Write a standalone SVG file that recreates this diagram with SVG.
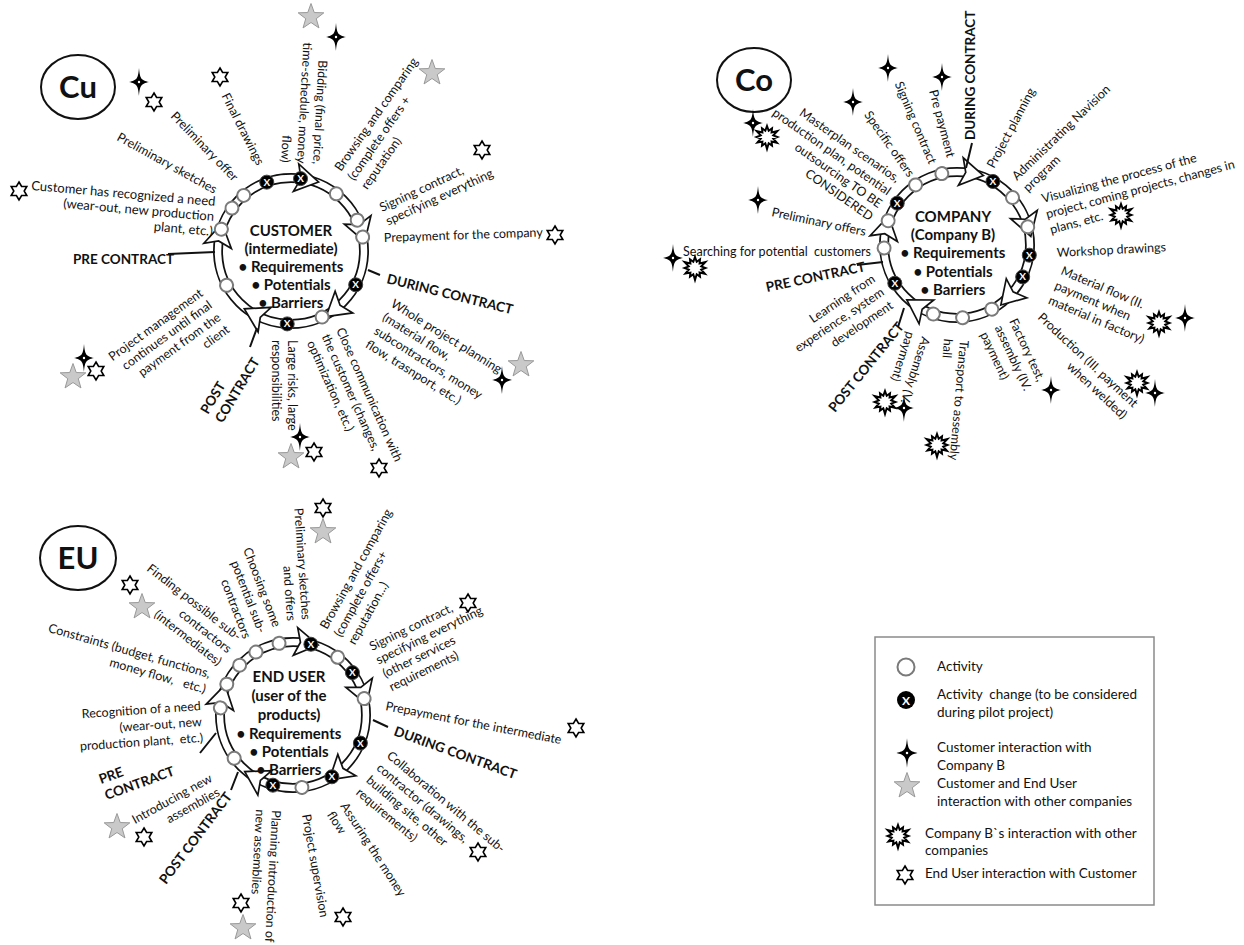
<svg xmlns="http://www.w3.org/2000/svg" width="1244" height="945" viewBox="0 0 1244 945">
<style>
text{font-family:Lato,"Liberation Sans",sans-serif;fill:#111}
.l{font-size:12.5px}
.e{text-anchor:end}
.b{font-size:13.5px;font-weight:bold}
.c{font-size:15px;font-weight:bold;text-anchor:middle}
.big{font-size:31px;font-weight:bold;text-anchor:middle}
.lg{font-size:13.5px}
.bo{fill:none;stroke:#111;stroke-width:10}
.bi{fill:none;stroke:#fff;stroke-width:6.5}
.tk{stroke:#111;stroke-width:2;fill:none}
.ph{fill:#fff;stroke:#111;stroke-width:2}
</style>
<defs>
<g id="sp"><path d="M0,-14 C1,-3 2,-2 10,0 C2,2 1,3 0,14 C-1,3 -2,2 -10,0 C-2,-2 -1,-3 0,-14Z" fill="#000"/><circle r="1.2" fill="#fff"/></g>
<polygon id="hx" points="0,-9 2.6,-4.5 7.79,-4.5 5.2,0 7.79,4.5 2.6,4.5 0,9 -2.6,4.5 -7.79,4.5 -5.2,0 -7.79,-4.5 -2.6,-4.5" fill="#fff" stroke="#000" stroke-width="1.6"/>
<polygon id="gs" points="0,-13.5 3.24,-4.46 12.84,-4.17 5.24,1.7 7.94,10.92 0,5.5 -7.94,10.92 -5.24,1.7 -12.84,-4.17 -3.24,-4.46" fill="#c9c9c9" stroke="#999" stroke-width="1"/>
<polygon id="ex" points="0,-11 1.68,-6.28 5,-8.66 4.6,-4.6 10.39,-6 6.28,-1.68 10.5,0 6.28,1.68 9.96,5.75 4.6,4.6 5,8.66 1.68,6.28 0,12 -1.68,6.28 -5,8.66 -4.6,4.6 -9.53,5.5 -6.28,1.68 -10.5,0 -6.28,-1.68 -10.39,-6 -4.6,-4.6 -5,-8.66 -1.68,-6.28" fill="#fff" stroke="#000" stroke-width="2"/>
<circle id="ac" r="6.5" fill="#fff" stroke="#7a7a7a" stroke-width="2"/>
<g id="xc"><circle r="7" fill="#000" stroke="#444" stroke-width="1"/><text x="0" y="3.5" style="font-size:10px;font-weight:bold;fill:#fff;text-anchor:middle">X</text></g>
<polygon id="ah" points="14,0 -9,-14 -4,0 -9,14" fill="#fff" stroke="#111" stroke-width="1.7"/>
</defs>
<rect width="1244" height="945" fill="#fff"/>

<!-- connectors: rings, arrowheads, phase ticks -->
<g id="connectors">
 <g transform="translate(291,251)">
  <circle r="73" class="bo"/><circle r="73" class="bi"/>
  <use href="#ah" transform="rotate(-79) translate(73,0) rotate(90)"/>
  <use href="#ah" transform="rotate(-18) translate(73,0) rotate(90)"/>
  <use href="#ah" transform="rotate(51) translate(73,0) rotate(90)"/>
  <use href="#ah" transform="rotate(118) translate(73,0) rotate(90)"/>
  <use href="#ah" transform="rotate(191) translate(73,0) rotate(90)"/>
 </g>
 <g transform="translate(957,245)">
  <circle r="73" class="bo"/><circle r="73" class="bi"/>
  <use href="#ah" transform="rotate(-80) translate(73,0) rotate(90)"/>
  <use href="#ah" transform="rotate(-17.5) translate(73,0) rotate(90)"/>
  <use href="#ah" transform="rotate(43) translate(73,0) rotate(90)"/>
  <use href="#ah" transform="rotate(121.6) translate(73,0) rotate(90)"/>
  <use href="#ah" transform="rotate(192) translate(73,0) rotate(90)"/>
 </g>
 <g transform="translate(293,715)">
  <circle r="73" class="bo"/><circle r="73" class="bi"/>
  <use href="#ah" transform="rotate(-81) translate(73,0) rotate(90)"/>
  <use href="#ah" transform="rotate(-19) translate(73,0) rotate(90)"/>
  <use href="#ah" transform="rotate(50) translate(73,0) rotate(90)"/>
  <use href="#ah" transform="rotate(119.6) translate(73,0) rotate(90)"/>
  <use href="#ah" transform="rotate(193) translate(73,0) rotate(90)"/>
 </g>
 <path class="tk" d="M168,254 L215,252 M368,270 L380,275 M257,328 L250,347"/>
 <path class="tk" d="M972,143 L966,168 M857,265 L883,262 M904,308 L898,327"/>
 <path class="tk" d="M373,720 L388,727 M216,733 L200,753 M238,772 L231,790"/>
</g>

<!-- CUSTOMER panel -->
<g id="cu">
 <g id="cu-tag"><ellipse cx="78" cy="87" rx="37" ry="32" class="ph"/><text class="big" x="78" y="98">Cu</text></g>
 <g id="cu-node" transform="translate(291,251)">
  <use href="#xc" transform="rotate(-109.4) translate(73,0) rotate(109.4)"/>
  <use href="#xc" transform="rotate(-82.5) translate(73,0) rotate(82.5)"/>
  <use href="#ac" transform="rotate(-51.6) translate(73,0)"/>
  <use href="#ac" transform="rotate(-25) translate(73,0)"/>
  <use href="#ac" transform="rotate(-11) translate(73,0)"/>
  <use href="#xc" transform="rotate(27.6) translate(73,0) rotate(-27.6)"/>
  <use href="#ac" transform="rotate(64.8) translate(73,0)"/>
  <use href="#xc" transform="rotate(93) translate(73,0) rotate(-93)"/>
  <use href="#ac" transform="rotate(152) translate(73,0)"/>
  <use href="#ac" transform="rotate(197.4) translate(73,0)"/>
  <use href="#ac" transform="rotate(216) translate(73,0)"/>
  <use href="#ac" transform="rotate(229.6) translate(73,0)"/>
  <text class="c" x="0" y="-15">CUSTOMER</text>
  <text class="c" x="0" y="3">(intermediate)</text>
  <text class="c" x="0" y="21">• Requirements</text>
  <text class="c" x="0" y="39">• Potentials</text>
  <text class="c" x="0" y="57">• Barriers</text>
 </g>
 <g id="cu-labels">
  <text class="l e" style="font-size:13px" transform="translate(215,206) rotate(5)"><tspan x="0">Customer has recognized a need</tspan><tspan x="0" dy="15">(wear-out, new production</tspan><tspan x="0" dy="15">plant, etc.)</tspan></text>
  <text class="l e" transform="translate(214,194) rotate(29)">Preliminary sketches</text>
  <text class="l e" transform="translate(233,182) rotate(46)">Preliminary offer</text>
  <text class="l e" transform="translate(257,166) rotate(63)">Final drawings</text>
  <text class="l e" transform="translate(313,164) rotate(93)"><tspan x="0">Bidding (final price,</tspan><tspan x="0" dy="16">time-schedule, money</tspan><tspan x="0" dy="16">flow)</tspan></text>
  <text class="l" transform="translate(341,172) rotate(-55)"><tspan x="0">Browsing and comparing</tspan><tspan x="0" dy="16">(complete offers +</tspan><tspan x="0" dy="16">reputation)</tspan></text>
  <text class="l" transform="translate(382,212) rotate(-25)"><tspan x="0">Signing contract,</tspan><tspan x="0" dy="15">specifying everything</tspan></text>
  <text class="l" transform="translate(384,242) rotate(-2)">Prepayment for the company</text>
  <text class="b" transform="translate(386,283) rotate(14)">DURING CONTRACT</text>
  <text class="l" transform="translate(390,306) rotate(32)"><tspan x="0">Whole project planning</tspan><tspan x="0" dy="16">(material flow,</tspan><tspan x="0" dy="16">subcontractors, money</tspan><tspan x="0" dy="16">flow, trasnport, etc.)</tspan></text>
  <text class="l" transform="translate(336,330) rotate(66)"><tspan x="0">Close communication with</tspan><tspan x="0" dy="16">the customer (changes,</tspan><tspan x="0" dy="16">optimization, etc.)</tspan></text>
  <text class="l" transform="translate(288,340) rotate(90)"><tspan x="0">Large risks, large</tspan><tspan x="0" dy="16">responsibilities</tspan></text>
  <text class="b" transform="translate(208,415) rotate(-59)"><tspan x="0">POST</tspan><tspan x="0" dy="17">CONTRACT</tspan></text>
  <text class="l e" transform="translate(204,295) rotate(-36)"><tspan x="0">Project management</tspan><tspan x="0" dy="15">continues until final</tspan><tspan x="0" dy="15">payment from the</tspan><tspan x="0" dy="15">client</tspan></text>
  <text class="b" x="73" y="264">PRE CONTRACT</text>
 </g>
 <g id="cu-icons">
  <use href="#sp" x="139" y="82"/><use href="#hx" x="154" y="102"/>
  <use href="#hx" x="220" y="77"/>
  <use href="#gs" x="311" y="17"/><use href="#sp" x="336" y="37"/>
  <use href="#gs" x="432" y="73"/>
  <use href="#hx" x="482" y="150"/>
  <use href="#hx" x="19" y="191"/>
  <use href="#hx" x="555" y="235"/>
  <use href="#sp" x="84" y="358"/><use href="#hx" x="96" y="371"/><use href="#gs" x="73" y="377"/>
  <use href="#gs" x="521" y="365"/><use href="#sp" x="502" y="380"/>
  <use href="#sp" x="300" y="437"/><use href="#hx" x="314" y="452"/><use href="#gs" x="291" y="457"/>
  <use href="#hx" x="379" y="468"/>
 </g>
</g>

<!-- COMPANY panel -->
<g id="co">
 <g id="co-tag"><ellipse cx="754" cy="80" rx="37" ry="32" class="ph"/><text class="big" x="754" y="91">Co</text></g>
 <g id="co-node" transform="translate(957,245)">
  <use href="#ac" transform="rotate(-102) translate(73,0)"/>
  <use href="#ac" transform="rotate(-124.6) translate(73,0)"/>
  <use href="#xc" transform="rotate(-145) translate(73,0) rotate(145)"/>
  <use href="#ac" transform="rotate(-160.6) translate(73,0)"/>
  <use href="#ac" transform="rotate(177.6) translate(73,0)"/>
  <use href="#xc" transform="rotate(148.4) translate(73,0) rotate(-148.4)"/>
  <use href="#ac" transform="rotate(109) translate(73,0)"/>
  <use href="#ac" transform="rotate(85.6) translate(73,0)"/>
  <use href="#ac" transform="rotate(61.5) translate(73,0)"/>
  <use href="#xc" transform="rotate(25.9) translate(73,0) rotate(-25.9)"/>
  <use href="#xc" transform="rotate(8) translate(73,0) rotate(-8)"/>
  <use href="#ac" transform="rotate(-14.4) translate(73,0)"/>
  <use href="#ac" transform="rotate(-40.5) translate(73,0)"/>
  <use href="#xc" transform="rotate(-60.5) translate(73,0) rotate(60.5)"/>
  <text class="c" x="-4" y="-23">COMPANY</text>
  <text class="c" x="-4" y="-5">(Company B)</text>
  <text class="c" x="-4" y="13">• Requirements</text>
  <text class="c" x="-4" y="32">• Potentials</text>
  <text class="c" x="-4" y="50">• Barriers</text>
 </g>
 <g id="co-labels">
  <text class="b" transform="translate(975,140) rotate(-90)">DURING CONTRACT</text>
  <text class="l" transform="translate(994,169) rotate(-62)">Project planning</text>
  <text class="l" transform="translate(1017,181) rotate(-44)"><tspan x="0">Administrating Navision</tspan><tspan x="0" dy="16">program</tspan></text>
  <text class="l" transform="translate(1043,203) rotate(-15)"><tspan x="0">Visualizing the process of the</tspan><tspan x="0" dy="16">project, coming projects, changes in</tspan><tspan x="0" dy="16">plans, etc.</tspan></text>
  <text class="l" transform="translate(1057,257) rotate(-3)">Workshop drawings</text>
  <text class="l" transform="translate(1060,274) rotate(23)"><tspan x="0">Material flow (II.</tspan><tspan x="0" dy="16">payment when</tspan><tspan x="0" dy="16">material in factory)</tspan></text>
  <text class="l e" transform="translate(1133,408) rotate(43)"><tspan x="0">Production (III. payment</tspan><tspan x="0" dy="16">when welded)</tspan></text>
  <text class="l" transform="translate(1009,321) rotate(65)"><tspan x="0">Factory test,</tspan><tspan x="0" dy="16">assembly (IV.</tspan><tspan x="0" dy="16">payment)</tspan></text>
  <text class="l" transform="translate(960,340) rotate(95)"><tspan x="0">Transport to assembly</tspan><tspan x="0" dy="16">hall</tspan></text>
  <text class="l" transform="translate(922,336) rotate(108)"><tspan x="0">Assembly (V.</tspan><tspan x="0" dy="16">payment)</tspan></text>
  <text class="b" transform="translate(835,413) rotate(-51)">POST CONTRACT</text>
  <text class="l e" transform="translate(876,281) rotate(-34)"><tspan x="0">Learning from</tspan><tspan x="0" dy="16">experience, system</tspan><tspan x="0" dy="16">development</tspan></text>
  <text class="b" transform="translate(767,292) rotate(-12)">PRE CONTRACT</text>
  <text class="l" x="683" y="256" textLength="188" lengthAdjust="spacing" xml:space="preserve">Searching for potential  customers</text>
  <text class="l e" transform="translate(865,236) rotate(12)">Preliminary offers</text>
  <text class="l e" transform="translate(896,183) rotate(35)"><tspan x="0">Masterplan scenarios,</tspan><tspan x="0" dy="15.5">production plan, potential</tspan><tspan x="0" dy="15.5">outsourcing TO BE</tspan><tspan x="0" dy="15.5">CONSIDERED</tspan></text>
  <text class="l e" transform="translate(908,178) rotate(55)">Specific offers</text>
  <text class="l e" transform="translate(929,165) rotate(67)">Signing contract</text>
  <text class="l e" transform="translate(947,158) rotate(75)">Pre payment</text>
 </g>
 <g id="co-icons">
  <use href="#sp" x="888" y="68"/><use href="#sp" x="942" y="77"/><use href="#sp" x="853" y="102"/>
  <use href="#sp" x="753" y="123"/><use href="#ex" x="767" y="137"/>
  <use href="#sp" x="758" y="200"/>
  <use href="#ex" x="1121" y="215"/>
  <use href="#sp" x="673" y="258"/><use href="#ex" x="695" y="268"/>
  <use href="#ex" x="1159" y="323"/><use href="#sp" x="1185" y="318"/>
  <use href="#ex" x="1137" y="383"/><use href="#sp" x="1155" y="393"/>
  <use href="#sp" x="1051" y="390"/>
  <use href="#ex" x="885" y="402"/><use href="#sp" x="904" y="408"/>
  <use href="#ex" x="937" y="445"/>
 </g>
</g>

<!-- END USER panel -->
<g id="eu">
 <g id="eu-tag"><ellipse cx="78" cy="558" rx="38" ry="32" class="ph"/><text class="big" x="78" y="569">EU</text></g>
 <g id="eu-node" transform="translate(293,715)">
  <use href="#xc" transform="rotate(-75.8) translate(73,0) rotate(75.8)"/>
  <use href="#ac" transform="rotate(-101) translate(73,0)"/>
  <use href="#ac" transform="rotate(-120.5) translate(73,0)"/>
  <use href="#ac" transform="rotate(-137) translate(73,0)"/>
  <use href="#ac" transform="rotate(-155) translate(73,0)"/>
  <use href="#ac" transform="rotate(-174.4) translate(73,0)"/>
  <use href="#ac" transform="rotate(143.7) translate(73,0)"/>
  <use href="#xc" transform="rotate(106) translate(73,0) rotate(-106)"/>
  <use href="#ac" transform="rotate(83) translate(73,0)"/>
  <use href="#xc" transform="rotate(57.8) translate(73,0) rotate(-57.8)"/>
  <use href="#xc" transform="rotate(22.6) translate(73,0) rotate(-22.6)"/>
  <use href="#ac" transform="rotate(-13) translate(73,0)"/>
  <use href="#xc" transform="rotate(-35.5) translate(73,0) rotate(35.5)"/>
  <use href="#ac" transform="rotate(-52.3) translate(73,0)"/>
  <text class="c" x="-4" y="-33">END USER</text>
  <text class="c" x="-4" y="-14">(user of the</text>
  <text class="c" x="-4" y="5">products)</text>
  <text class="c" x="-4" y="24">• Requirements</text>
  <text class="c" x="-4" y="42">• Potentials</text>
  <text class="c" x="-4" y="60">• Barriers</text>
 </g>
 <g id="eu-labels">
  <text class="l e" transform="translate(237,641) rotate(38)"><tspan x="0">Finding possible sub-</tspan><tspan x="0" dy="16">contractors</tspan><tspan x="0" dy="16">(intermediates)</tspan></text>
  <text class="l e" transform="translate(209,678) rotate(16)"><tspan x="0">Constraints (budget, functions,</tspan><tspan x="0" dy="16" xml:space="preserve">money flow,   etc.)</tspan></text>
  <text class="l e" transform="translate(273,628) rotate(69)"><tspan x="0">Choosing some</tspan><tspan x="0" dy="16">potential sub-</tspan><tspan x="0" dy="16">contractors</tspan></text>
  <text class="l e" transform="translate(302,620) rotate(86)"><tspan x="0">Preliminary sketches</tspan><tspan x="0" dy="15">and offers</tspan></text>
  <text class="l" transform="translate(327,630) rotate(-61)"><tspan x="0">Browsing and comparing</tspan><tspan x="0" dy="16">(complete offers+</tspan><tspan x="0" dy="16">reputation...)</tspan></text>
  <text class="l" transform="translate(372,651) rotate(-26)"><tspan x="0">Signing contract,</tspan><tspan x="0" dy="15">specifying everything</tspan><tspan x="0" dy="15">(other services</tspan><tspan x="0" dy="15">requirements)</tspan></text>
  <text class="l" transform="translate(385,710) rotate(11)">Prepayment for the intermediate</text>
  <text class="b" transform="translate(393,735) rotate(20)">DURING CONTRACT</text>
  <text class="l" transform="translate(386,757) rotate(40)"><tspan x="0">Collaboration with the sub-</tspan><tspan x="0" dy="16">contractor (drawings,</tspan><tspan x="0" dy="16">building site, other</tspan><tspan x="0" dy="16">requirements)</tspan></text>
  <text class="l" transform="translate(340,806) rotate(57)"><tspan x="0">Assuring the money</tspan><tspan x="0" dy="16">flow</tspan></text>
  <text class="l" transform="translate(302,815) rotate(80)">Project supervision</text>
  <text class="l" transform="translate(272,810) rotate(93)"><tspan x="0">Planning introduction of</tspan><tspan x="0" dy="16">new assemblies</tspan></text>
  <text class="b" transform="translate(166,885) rotate(-53)">POST CONTRACT</text>
  <text class="b" transform="translate(101,784) rotate(-20)"><tspan x="0">PRE</tspan><tspan x="0" dy="17">CONTRACT</tspan></text>
  <text class="l e" transform="translate(213,781) rotate(-29)"><tspan x="0">Introducing new</tspan><tspan x="0" dy="16">assemblies</tspan></text>
  <text class="l e" transform="translate(201,710) rotate(-4)" xml:space="preserve"><tspan x="0">Recognition of a need</tspan><tspan x="0" dy="16">(wear-out, new</tspan><tspan x="0" dy="16">production plant,  etc.)</tspan></text>
 </g>
 <g id="eu-icons">
  <use href="#hx" x="323" y="508"/><use href="#gs" x="323" y="532"/>
  <use href="#hx" x="130" y="585"/><use href="#gs" x="142" y="607"/>
  <use href="#hx" x="468" y="603"/>
  <use href="#hx" x="576" y="728"/>
  <use href="#hx" x="478" y="852"/>
  <use href="#hx" x="343" y="917"/>
  <use href="#hx" x="241" y="903"/><use href="#gs" x="243" y="928"/>
  <use href="#gs" x="117" y="827"/><use href="#hx" x="144" y="837"/>
 </g>
</g>

<!-- Legend -->
<g id="legend">
 <rect x="875" y="637" width="279" height="268" fill="#fff" stroke="#8a8a8a" stroke-width="1.5"/>
 <circle cx="906" cy="667" r="8.5" fill="#fff" stroke="#7a7a7a" stroke-width="2"/>
 <text class="lg" x="937" y="671">Activity</text>
 <g transform="translate(906,700)"><circle r="9" fill="#000"/><text x="0" y="4.5" style="font-size:12px;font-weight:bold;fill:#fff;text-anchor:middle">X</text></g>
 <text class="lg" x="937" y="699"><tspan x="937" xml:space="preserve">Activity  change (to be considered</tspan><tspan x="937" dy="18">during pilot project)</tspan></text>
 <use href="#sp" transform="translate(907,753) scale(1.05)"/>
 <text class="lg" x="937" y="752"><tspan x="937">Customer interaction with</tspan><tspan x="937" dy="18">Company B</tspan></text>
 <use href="#gs" transform="translate(907,786)"/>
 <text class="lg" x="937" y="788"><tspan x="937">Customer and End User</tspan><tspan x="937" dy="18">interaction with other companies</tspan></text>
 <use href="#ex" x="898" y="836"/>
 <text class="lg" x="925" y="838"><tspan x="925">Company B`s interaction with other</tspan><tspan x="925" dy="17">companies</tspan></text>
 <use href="#hx" x="905" y="875"/>
 <text class="lg" x="925" y="878">End User interaction with Customer</text>
</g>
</svg>
